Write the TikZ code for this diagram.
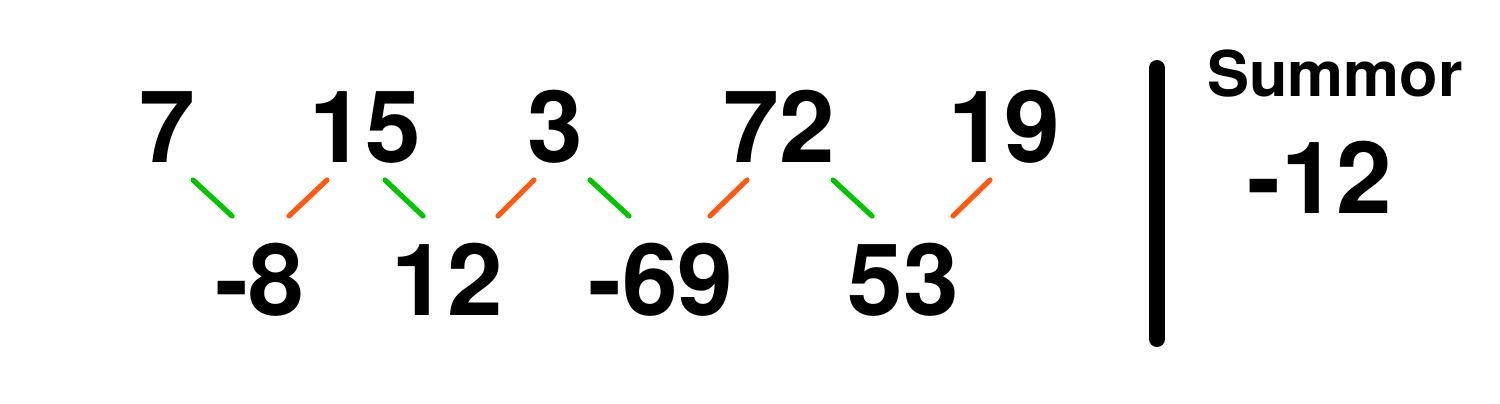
\documentclass[tikz,border=0pt]{standalone}
\usepackage{fontspec}
\setmainfont{TeX Gyre Heros}
\usepackage{tikz}
\definecolor{upgreen}{RGB}{0,196,0}
\definecolor{downorange}{RGB}{255,90,20}

\begin{document}
\begin{tikzpicture}[x=0.5pt,y=-0.5pt,
  num/.style={font=\fontsize{50}{50}\selectfont\bfseries,anchor=base,inner sep=0pt},
  stroke/.style={line width=2.6pt,line cap=round}]
\useasboundingbox (0,0) rectangle (1500,403);
% row of values
\foreach \v/\x [count=\i] in {7/167,15/365,3/555,72/779,19/1004}
  \node[num] (t\i) at (\x,162) {\v};
% row of differences
\foreach \v/\x [count=\i] in {-8/260,12/447,-69/661,53/903}
  \node[num] (d\i) at (\x,315) {\v};
\foreach \xa/\xb in {193/232,385/423,590/629,833/872}
  \draw[stroke,upgreen] (\xa,180) -- (\xb,216);
\foreach \xa/\xb in {289/327,498/534,710/747,953/990}
  \draw[stroke,downorange] (\xa,216) -- (\xb,180);
% sum
\draw[line width=8pt,line cap=round] (1157,68) -- (1157,339);
\node[num,font=\fontsize{31.5}{31.5}\selectfont\bfseries] (label) at (1335,96) {Summor};
\node[num] (sum) at (1320,213) {-12};
\end{tikzpicture}
\end{document}
